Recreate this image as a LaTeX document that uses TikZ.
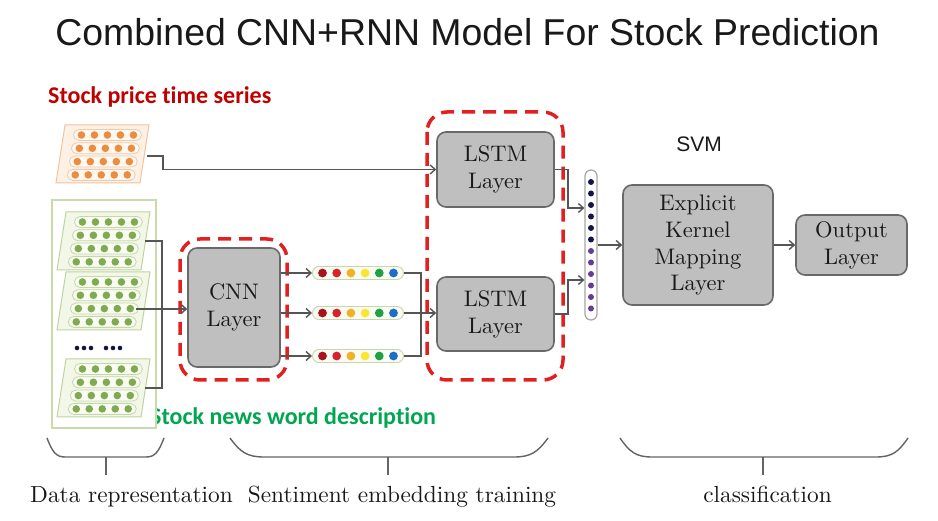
\documentclass[tikz,border=0pt]{standalone}
\usepackage{fontspec}
\newfontfamily\titlefont{Liberation Sans}
\newfontfamily\labfont{Carlito}[Ligatures={NoCommon}]
\newfontfamily\boxfont{lmroman10-regular}[Extension=.otf]
\usetikzlibrary{arrows.meta,calc}
\definecolor{boxfill}{RGB}{191,191,191}
\definecolor{boxdraw}{RGB}{105,105,105}
\definecolor{reddashc}{RGB}{226,32,32}
\definecolor{connc}{RGB}{85,85,85}
\definecolor{redtxt}{RGB}{192,0,0}
\definecolor{greentxt}{RGB}{0,166,80}
% orange matrix
\definecolor{ofill}{RGB}{253,240,228}
\definecolor{oline}{RGB}{240,196,160}
\definecolor{opill}{RGB}{255,248,240}
\definecolor{opline}{RGB}{236,204,176}
\definecolor{odot}{RGB}{236,140,62}
% green matrix
\definecolor{gfill}{RGB}{242,247,232}
\definecolor{gline}{RGB}{190,212,160}
\definecolor{gpill}{RGB}{250,252,244}
\definecolor{gpline}{RGB}{196,216,170}
\definecolor{gdot}{RGB}{128,170,80}
\definecolor{gbox}{RGB}{200,220,170}
% embedding dots
\definecolor{cdr}{RGB}{168,20,30}
\definecolor{crd}{RGB}{214,36,44}
\definecolor{cor}{RGB}{240,176,40}
\definecolor{cye}{RGB}{250,230,50}
\definecolor{cgr}{RGB}{30,160,70}
\definecolor{cbl}{RGB}{30,110,200}
\definecolor{navy}{RGB}{20,20,70}
\definecolor{purp}{RGB}{100,60,150}
\definecolor{bracec}{RGB}{100,100,100}
\definecolor{txtc}{RGB}{25,25,25}

\newcommand\datamat[3]{%
  \filldraw[fill=#3fill, draw=#3line, line width=1pt] (#1,#2) -- ++(84,0) -- ++(-9,58) -- ++(-84,0) -- cycle;
  \foreach \r in {0,...,3} {%
    \pgfmathsetmacro\cy{#2+10+13.3*\r}%
    \pgfmathsetmacro\cx{#1+44-9*(10+13.3*\r)/58}%
    \draw[draw=#3pline, fill=#3pill, line width=0.8pt, rounded corners=5.5pt] (\cx-34,\cy-5.5) rectangle (\cx+34,\cy+5.5);
    \foreach \d in {-2,...,2} \fill[#3dot] (\cx+13*\d,\cy) circle (3.8);
  }%
}
\newcommand\mybrace[4]{%
  \draw[bracec, line width=1.4pt] (#1,438) .. controls (#1+0.3*#4,452) and (#1+0.5*#4,457) .. (#1+#4,457) -- (#2-#4,457) .. controls (#2-0.5*#4,457) and (#2-0.3*#4,452) .. (#2,438);
  \draw[bracec, line width=1.4pt] (#3,457) -- (#3,475);
}

\begin{document}
\begin{tikzpicture}[x=1pt,y=-1pt,
  layer/.style={draw=boxdraw, fill=boxfill, line width=1.6pt, rounded corners=9pt, inner sep=0pt,
    font=\boxfont\fontsize{22.5}{27}\selectfont, text=txtc, align=center},
  reddashed/.style={draw=reddashc, line width=3.5pt, dash pattern=on 13pt off 8pt, rounded corners=20pt},
  arr/.style={draw=connc, line width=1.4pt, -{Straight Barb[length=5pt,width=9pt]}},
  conn/.style={draw=connc, line width=1.4pt},
  pill/.style={draw=gpline, fill=gpill, line width=0.9pt, rounded corners=6.5pt, minimum width=91pt, minimum height=13pt, inner sep=0pt},
  vecbox/.style={draw=gray!70, fill=white, line width=1.2pt, rounded corners=6pt, minimum width=12pt, minimum height=150pt, inner sep=0pt},
  bottomlab/.style={font=\boxfont\fontsize{23.3}{27}\selectfont, text=txtc, anchor=base}
]
\useasboundingbox (0,0) rectangle (938,521);
\fill[white] (0,0) rectangle (938,521);

% title and labels
\node[font=\titlefont\fontsize{37.4}{40}\selectfont, text=black!90, anchor=base] (title) at (467.5,46) {Combined CNN+RNN Model For Stock Prediction};
\node[font=\labfont\bfseries\fontsize{24}{28}\selectfont, text=redtxt, anchor=base west, inner sep=0pt] (lab1) at (48,104) {Stock price time series};
\node[font=\labfont\bfseries\fontsize{24}{28}\selectfont, text=greentxt, anchor=base west, inner sep=0pt] (lab2) at (150,425) {Stock news word description};
\node[font=\titlefont\fontsize{21}{24}\selectfont, text=black!90, anchor=base] (svm) at (699,152) {SVM};

% data representation
\datamat{65}{125}{o}
\filldraw[fill=white, draw=gbox, line width=1.2pt] (52,200) rectangle (156,428);
\datamat{66}{212}{g}
\datamat{66}{272}{g}
\datamat{66}{359}{g}
\foreach \xx in {77,84,91,106,113,120} \fill[navy] (\xx,348) circle (2.3);

\coordinate (oe) at (147,156);
\coordinate (m1e) at (145,241);
\coordinate (m2e) at (136,309);
\coordinate (m3e) at (145,388);

% layers
\node[layer, minimum width=92pt, minimum height=119pt] (cnn) at (234,307.5) {CNN\\Layer};
\node[layer, minimum width=117pt, minimum height=75pt] (lstm1) at (495.5,169.5) {LSTM\\Layer};
\node[layer, minimum width=117pt, minimum height=74pt] (lstm2) at (495.5,314) {LSTM\\Layer};
\node[layer, minimum width=150pt, minimum height=120pt] (expl) at (698,245) {Explicit\\Kernel\\Mapping\\Layer};
\node[layer, minimum width=111pt, minimum height=60pt] (outl) at (851.5,245) {Output\\Layer};

% red dashed groups
\draw[reddashed] (180,239) rectangle (287,380);
\draw[reddashed] (427,112) rectangle (563,380);

% embedding pills
\node[pill] (p1) at (358,273) {};
\node[pill] (p2) at (358,313) {};
\node[pill] (p3) at (358,356) {};
\foreach \p in {p1,p2,p3}{
  \foreach \c [count=\i from 0] in {cdr,crd,cor,cye,cgr,cbl}
    \fill[\c] ($(\p)+(-35.5+14.2*\i,0)$) circle (4.4);
}

% concatenated vector
\node[vecbox] (vec) at (591,245) {};
\foreach \i in {0,...,11}{
  \pgfmathsetmacro\vy{182+11.5*\i}
  \ifnum\i<6 \fill[navy] (591,\vy) circle (3); \else \fill[purp] (591,\vy) circle (3); \fi
}

% connectors
\draw[arr] (oe) -- (163,156) |- (lstm1.west);
\draw[conn] (m1e) -- (162,241) -- (162,388) -- (m3e);
\draw[arr] (m2e) -- (m2e -| cnn.west);
\draw[arr] (cnn.east |- p1.west) -- (p1.west);
\draw[arr] (cnn.east |- p2.west) -- (p2.west);
\draw[arr] (cnn.east |- p3.west) -- (p3.west);
\draw[conn] (p1.east) -- ++(17,0) |- (p3.east);
\draw[arr] (p2.east) -- (p2.east -| lstm2.west);
\draw[arr] (lstm1.east) -- ++(13,0) |- ($(vec.west)+(0,-37)$);
\draw[arr] (lstm2.east) -- ++(13,0) |- ($(vec.west)+(0,35)$);
\draw[arr] (vec.east) -- (expl.west);
\draw[arr] (expl.east) -- (outl.west);

% braces
\mybrace{47}{164}{106}{18}
\mybrace{230}{548}{388}{34}
\mybrace{620}{908}{763}{32}

\node[bottomlab] (b1) at (131.5,502) {Data representation};
\node[bottomlab] (b2) at (402,502) {Sentiment embedding training};
\node[bottomlab] (b3) at (767.5,502) {classification};
\end{tikzpicture}
\end{document}
